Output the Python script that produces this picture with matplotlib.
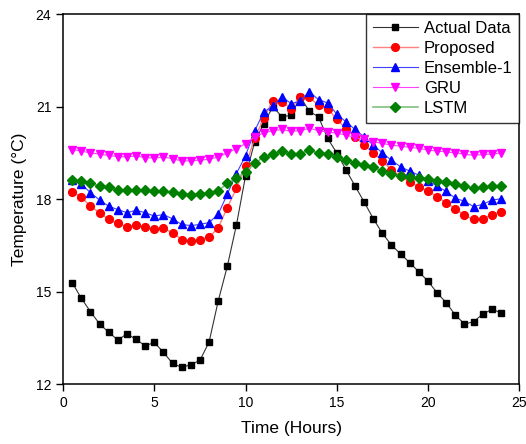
import numpy as np
import matplotlib
matplotlib.use("Agg")
import matplotlib.pyplot as plt

plt.rcParams['font.family'] = ['Liberation Sans', 'DejaVu Sans']

# time axis (hours)
hours = np.arange(0.5, 24.01, 0.5)

actual = [15.29, 14.78, 14.35, 13.95, 13.68, 13.43, 13.63, 13.45, 13.24, 13.35,
          13.03, 12.67, 12.54, 12.63, 12.77, 13.36, 14.69, 15.82, 17.16, 18.75,
          19.85, 20.45, 21.00, 20.67, 20.72, 21.32, 20.85, 20.67, 19.97, 19.50,
          18.96, 18.43, 17.91, 17.37, 16.89, 16.51, 16.22, 15.94, 15.64, 15.34,
          14.96, 14.64, 14.24, 13.95, 14.02, 14.27, 14.42, 14.32]

proposed = [18.24, 18.06, 17.77, 17.56, 17.34, 17.21, 17.10, 17.16, 17.10, 17.02,
            17.05, 16.91, 16.69, 16.64, 16.69, 16.76, 17.07, 17.72, 18.35, 19.08,
            19.97, 20.62, 21.19, 21.16, 20.94, 21.32, 21.30, 21.05, 20.94, 20.59,
            20.29, 20.02, 19.75, 19.50, 19.23, 18.96, 18.74, 18.56, 18.40, 18.26,
            18.08, 17.88, 17.69, 17.47, 17.34, 17.36, 17.50, 17.58]

ensemble1 = [18.62, 18.48, 18.21, 17.97, 17.77, 17.66, 17.56, 17.64, 17.56, 17.45,
             17.50, 17.36, 17.18, 17.14, 17.18, 17.24, 17.51, 18.16, 18.83, 19.41,
             20.21, 20.83, 21.02, 21.32, 21.10, 21.18, 21.48, 21.23, 21.12, 20.76,
             20.51, 20.26, 20.02, 19.75, 19.50, 19.26, 19.05, 18.91, 18.78, 18.60,
             18.42, 18.25, 18.03, 17.93, 17.76, 17.83, 17.97, 18.01]

gru = [19.61, 19.56, 19.50, 19.46, 19.42, 19.38, 19.37, 19.40, 19.35, 19.33,
       19.37, 19.31, 19.24, 19.24, 19.27, 19.29, 19.37, 19.50, 19.64, 19.80,
       20.02, 20.15, 20.22, 20.26, 20.20, 20.22, 20.30, 20.22, 20.18, 20.14,
       20.08, 20.00, 19.94, 19.86, 19.81, 19.75, 19.72, 19.68, 19.65, 19.59,
       19.56, 19.53, 19.50, 19.46, 19.42, 19.45, 19.46, 19.50]

lstm = [18.62, 18.58, 18.51, 18.43, 18.38, 18.31, 18.29, 18.31, 18.29, 18.26,
        18.26, 18.22, 18.18, 18.15, 18.18, 18.20, 18.27, 18.51, 18.69, 18.88,
        19.16, 19.37, 19.46, 19.55, 19.47, 19.48, 19.58, 19.50, 19.48, 19.37,
        19.27, 19.18, 19.10, 19.03, 18.91, 18.83, 18.75, 18.72, 18.69, 18.65,
        18.59, 18.56, 18.49, 18.42, 18.35, 18.38, 18.42, 18.42]

fig = plt.figure(figsize=(5.26, 4.44), dpi=100)
ax = fig.add_axes([0.120, 0.135, 0.867, 0.833])

ax.plot(hours, actual, color='#333333', lw=0.8, marker='s', ms=4.8,
        mfc='black', mec='black', label='Actual Data')
ax.plot(hours, proposed, color='#ff8080', lw=1.0, marker='o', ms=5.6,
        mfc='red', mec='red', label='Proposed')
ax.plot(hours, ensemble1, color='#4040ff', lw=0.8, marker='^', ms=6.2,
        mfc='blue', mec='blue', label='Ensemble-1')
ax.plot(hours, gru, color='#ff40ff', lw=0.8, marker='v', ms=6.2,
        mfc='magenta', mec='magenta', label='GRU')
ax.plot(hours, lstm, color='#80c080', lw=1.2, marker='D', ms=4.8,
        mfc='green', mec='green', label='LSTM')

ax.set_xlim(0, 25)
ax.set_ylim(12, 24)
ax.set_xticks([0, 5, 10, 15, 20, 25])
ax.set_yticks([12, 15, 18, 21, 24])
ax.tick_params(direction='out', length=5, width=1, labelsize=10)
for s in ax.spines.values():
    s.set_linewidth(1.1)

ax.set_xlabel('Time (Hours)', fontsize=12.5, labelpad=8)
ax.set_ylabel('Temperature (°C)', fontsize=12.5, labelpad=6)

leg = ax.legend(loc='upper right', fontsize=12, frameon=True, fancybox=False,
                borderaxespad=0, handlelength=2.7, labelspacing=0.3,
                borderpad=0.4, handletextpad=0.35)
leg.get_frame().set_edgecolor('black')
leg.get_frame().set_linewidth(1.0)

plt.savefig('out.png', dpi=100)
